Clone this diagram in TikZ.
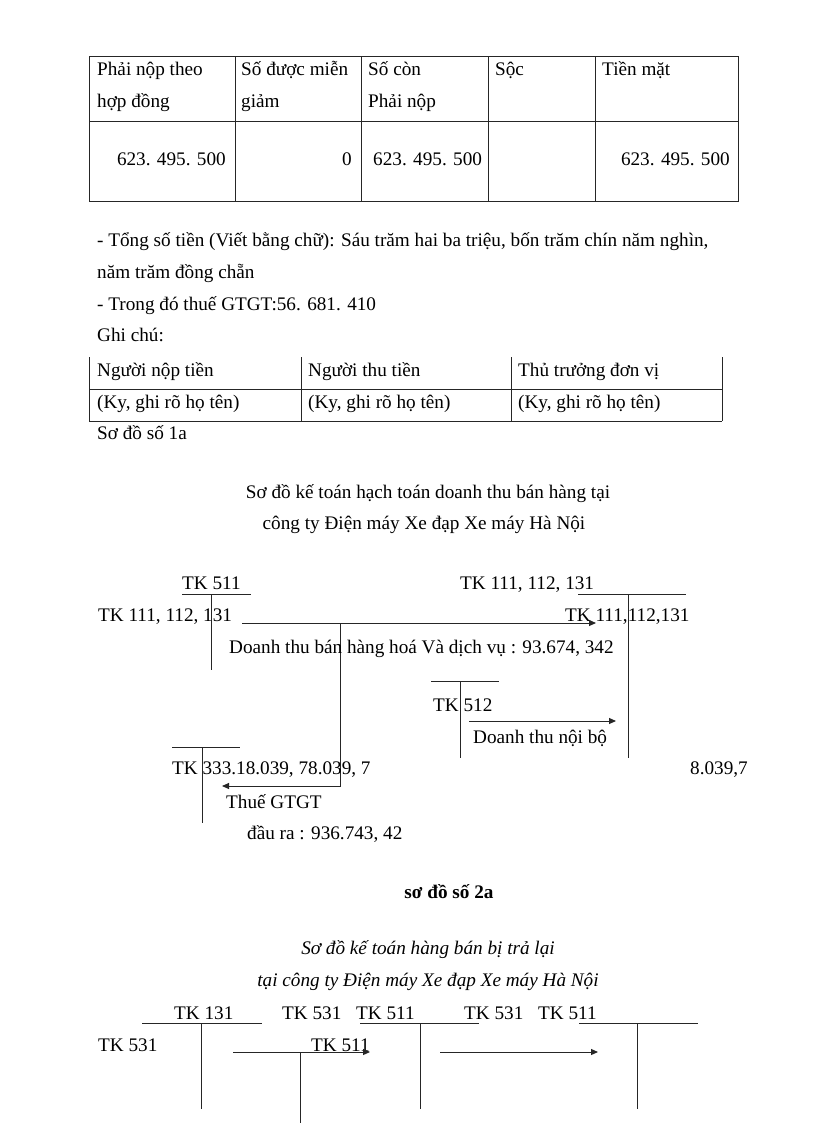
\documentclass[tikz,border=0pt]{standalone}
\usepackage{fontspec}
\setmainfont{Liberation Serif}
\usetikzlibrary{arrows.meta}
\newcommand{\myfs}{\fontsize{19.2}{22}\selectfont}
\begin{document}
\begin{tikzpicture}[x=1pt,y=-1pt,
  txt/.style={anchor=base west,inner sep=0pt,font=\myfs},
  txtr/.style={anchor=base east,inner sep=0pt,font=\myfs},
  txtc/.style={anchor=base,inner sep=0pt,font=\myfs},
  rule/.style={line width=1pt,black!85},
  arr/.style={line width=1pt,black!85,-{Triangle[length=7pt,width=6pt]}}]
\useasboundingbox (0,0) rectangle (816,1123);
\fill[white] (0,0) rectangle (816,1123);
% ---- table 1
\draw[rule] (89,57) rectangle (738,202);
\draw[rule] (89,122) -- (738,122);
\foreach \c in {235,361,488,595} \draw[rule] (\c,57) -- (\c,202);
\node[txt] (h1a) at (97,76) {Phải nộp theo};
\node[txt] (h1b) at (97,108) {hợp đồng};
\node[txt] (h2a) at (241,76) {Số được miễn};
\node[txt] (h2b) at (241,108) {giảm};
\node[txt] (h3a) at (368,76) {Số còn};
\node[txt] (h3b) at (368,108) {Phải nộp};
\node[txt] (h4) at (495,76) {Sộc};
\node[txt] (h5) at (602,76) {Tiền mặt};
\node[txtr] (v1) at (226,166) {623. 495. 500};
\node[txtr] (v2) at (352,166) {0};
\node[txt] (v3) at (373,166) {623. 495. 500};
\node[txtr] (v5) at (730,166) {623. 495. 500};
% ---- text
\node[txt] (p1) at (97,246) {- Tổng số tiền (Viết bằng chữ): Sáu trăm hai ba triệu, bốn trăm chín năm nghìn,};
\node[txt] (p2) at (97,278) {năm trăm đồng chẵn};
\node[txt] (p3) at (97,310) {- Trong đó thuế GTGT:56. 681. 410};
\node[txt] (p4) at (97,341) {Ghi chú:};
% ---- table 2
\draw[rule] (89,389) -- (722,389);
\draw[rule] (89,421) -- (722,421);
\foreach \c in {89,301,511,722} \draw[rule] (\c,357) -- (\c,421);
\node[txt] (s1) at (97,376) {Người nộp tiền};
\node[txt] (s2) at (308,376) {Người thu tiền};
\node[txt] (s3) at (518,376) {Thủ trưởng đơn vị};
\node[txt] (k1) at (97,408) {(Ky, ghi rõ họ tên)};
\node[txt] (k2) at (308,408) {(Ky, ghi rõ họ tên)};
\node[txt] (k3) at (518,408) {(Ky, ghi rõ họ tên)};
\node[txt] (sd1) at (97,439) {Sơ đồ số 1a};
% ---- diagram 1
\node[txtc] (t1) at (428,498) {Sơ đồ kế toán hạch toán doanh thu bán hàng tại};
\node[txtc] (t2) at (424,529) {công ty Điện máy Xe đạp Xe máy Hà Nội};
\node[txt] (tk511) at (182,589) {TK 511};
\draw[rule] (182,594) -- (251,594);
\draw[rule] (211,594) -- (211,670);
\node[txt] (tkR) at (460,589) {TK 111, 112, 131};
\draw[rule] (578,594) -- (686,594);
\draw[rule] (628,594) -- (628,758);
\node[txt] (tkL) at (98,621) {TK 111, 112, 131};
\node[txt] (tkR2) at (565,621) {TK 111,112,131};
\coordinate (a1s) at (242,623);
\coordinate (a1e) at (596,623);
\draw[arr] (a1s) -- (a1e);
\coordinate (br) at (340,623);
\coordinate (bc) at (340,786);
\coordinate (be) at (222,786);
\draw[arr] (br) -- (bc) -- (be);
\node[txt] (dt) at (229,653) {Doanh thu bán hàng hoá Và dịch vụ : 93.674, 342};
\draw[rule] (431,681) -- (499,681);
\draw[rule] (460,681) -- (460,758);
\node[txt] (tk512) at (433,711) {TK 512};
\coordinate (a2s) at (469,721);
\coordinate (a2e) at (616,721);
\draw[arr] (a2s) -- (a2e);
\node[txt] (dtnb) at (473,743) {Doanh thu nội bộ};
\draw[rule] (172,747) -- (240,747);
\draw[rule] (202,747) -- (202,823);
\node[txt] (tk333) at (172,774) {TK 333.18.039, 78.039, 7};
\node[txtr] (n8) at (748,774) {8.039,7};
\node[txt] (thue) at (226,808) {Thuế GTGT};
\node[txt] (daura) at (247,839) {đầu ra : 936.743, 42};
% ---- diagram 2
\node[txtc,font=\myfs\bfseries] (sd2) at (449,898) {sơ đồ số 2a};
\node[txtc,font=\myfs\itshape] (t3) at (428,954) {Sơ đồ kế toán hàng bán bị trả lại};
\node[txtc,font=\myfs\itshape] (t4) at (428,986) {tại công ty Điện máy Xe đạp Xe máy Hà Nội};
\node[txt] (r1) at (174,1019) {TK 131};
\node[txt] (r2) at (282,1019) {TK 531};
\node[txt] (r3) at (356,1019) {TK 511};
\node[txt] (r4) at (464,1019) {TK 531};
\node[txt] (r5) at (538,1019) {TK 511};
\draw[rule] (142,1023) -- (262,1023);
\draw[rule] (360,1023) -- (479,1023);
\draw[rule] (579,1023) -- (698,1023);
\draw[rule] (201,1023) -- (201,1109);
\draw[rule] (420,1023) -- (420,1109);
\draw[rule] (637,1023) -- (637,1109);
\node[txt] (l531) at (98,1051) {TK 531};
\node[txt] (m511) at (311,1051) {TK 511};
\coordinate (a3s) at (233,1052);
\coordinate (a3e) at (370,1052);
\draw[arr] (a3s) -- (a3e);
\coordinate (a3v) at (300,1052);
\coordinate (a3b) at (300,1123);
\draw[rule] (a3v) -- (a3b);
\coordinate (a4s) at (440,1052);
\coordinate (a4e) at (598,1052);
\draw[arr] (a4s) -- (a4e);
\end{tikzpicture}
\end{document}
